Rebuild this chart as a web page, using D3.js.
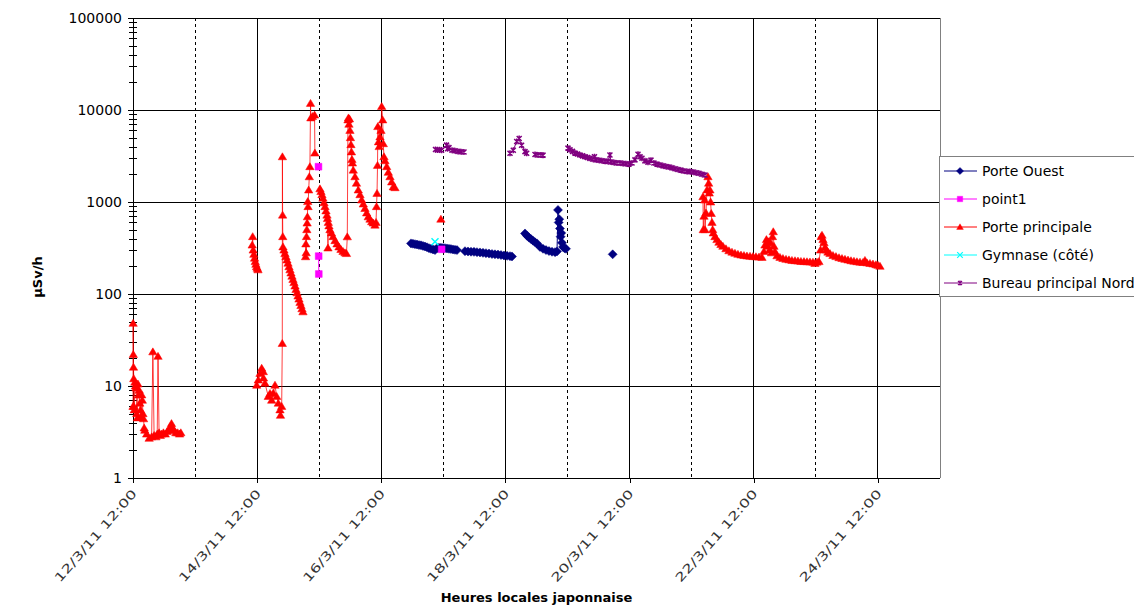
<!DOCTYPE html>
<html>
<head>
<meta charset="utf-8">
<script src="https://cdnjs.cloudflare.com/ajax/libs/d3/7.8.5/d3.min.js"></script>
<style>
  body { margin: 0; background: #fff; }
  svg { display: block; }
  text { font-family: "DejaVu Sans", Verdana, sans-serif; }
</style>
</head>
<body>
<div id="chart"></div>
<script>
// time = fractional day of March 2011, value in µSv/h, null = break in the line
const xTickLabels = ["12/3/11 12:00", "14/3/11 12:00", "16/3/11 12:00", "18/3/11 12:00", "20/3/11 12:00", "22/3/11 12:00", "24/3/11 12:00"];
const xMinorLabels = ["13/3/11 12:00", "15/3/11 12:00", "17/3/11 12:00", "19/3/11 12:00", "21/3/11 12:00", "23/3/11 12:00"];
const xDomain = ["12/3/11 12:00", "25/3/11 12:00"];
const yTicks = [1, 10, 100, 1000, 10000, 100000];

const porteOuest = [
  [16.978,355],[17.010,352],[17.043,348],[17.075,345],[17.107,340],[17.139,338],[17.172,333],[17.204,328],[17.236,322],[17.268,315],[17.300,310],[17.333,305],[17.365,300],
  [17.397,315],[17.429,318],[17.461,318],[17.494,316],[17.526,315],[17.558,313],[17.590,310],[17.622,308],[17.655,305],[17.687,302],[17.719,300], null,
  [17.848,292],[17.897,290],[17.945,288],[17.993,287],[18.041,285],[18.090,283],[18.138,280],[18.186,278],[18.235,275],[18.283,272],[18.331,270],[18.380,268],[18.428,265],[18.476,262],[18.525,260],[18.573,258],[18.605,256], null,
  [18.815,455],[18.847,430],[18.879,410],[18.911,395],[18.944,380],[18.976,365],[19.008,355], null,
  [19.056,325],[19.105,310],[19.153,300],[19.201,293],[19.250,288],[19.298,285],[19.330,290],[19.346,820],[19.357,600],[19.367,650],[19.378,515],[19.389,420],[19.399,460],[19.411,360],[19.427,325],[19.451,315],[19.475,310], null,
  [20.227,270]
];

const point1 = [
  [15.488,2420], null, [15.491,258],[15.493,165], null, [17.472,306]
];

const portePrincipale = [
  [12.500,6],[12.502,48],[12.505,22],[12.508,16],[12.512,12],[12.515,6],[12.520,5.5],[12.530,11],[12.540,10],[12.550,9.5],[12.560,5],[12.570,4.5],[12.580,10.5],[12.590,8],[12.600,9],[12.610,6.5],[12.620,5.5],[12.630,4.6],[12.640,8],[12.650,7],[12.660,5],[12.670,4.4],[12.680,3.5],[12.690,3.3],[12.720,3.0],[12.760,2.7],[12.800,2.8],[12.820,23.5],[12.840,2.9],[12.870,2.8],[12.890,3.0],[12.903,21],[12.920,3.1],[12.940,2.9],[12.960,3.0],[12.990,3.1],[13.020,3.0],[13.050,3.2],[13.080,3.3],[13.100,3.6],[13.120,3.9],[13.140,3.5],[13.160,3.3],[13.190,3.1],[13.220,3.1],[13.250,3.0],[13.270,3.1], null,
  [14.420,340],[14.428,420],[14.436,300],[14.447,270],[14.458,245],[14.469,225],[14.480,210],[14.491,198],[14.502,190],[14.513,183], null,
  [14.493,10.2],[14.518,11.6],[14.546,13.7],[14.573,15.6],[14.599,14.3],[14.602,12.2],[14.626,10.7],[14.679,7.7],[14.707,8.3],[14.734,7.0],[14.760,8.4],[14.787,10.2],[14.815,7.7],[14.841,6.5],[14.868,5.5],[14.876,4.8],[14.895,6.0],
  [14.905,29],[14.907,3100],[14.910,720],[14.913,420],[14.916,325],
  [14.932,300],[14.948,275],[14.964,254],[14.980,234],[14.997,216],[15.013,198],[15.029,183],[15.045,169],[15.061,156],[15.077,144],[15.093,133],[15.110,122],[15.126,112],[15.142,103],[15.158,95],[15.174,88],[15.190,81],[15.206,75],[15.222,69],[15.238,64], null,
  [15.280,254],[15.285,350],[15.290,280],[15.295,420],[15.300,500],[15.305,590],[15.310,690],[15.315,1010],[15.320,890],[15.330,1350],[15.340,1880],[15.350,2420],[15.360,11800],[15.365,8200],[15.390,8500],[15.425,8800],[15.430,3400], null,
  [15.512,1390],[15.528,1300],[15.544,1200],[15.560,1100],[15.577,980],[15.593,890],[15.609,800],[15.625,720],[15.633,660],[15.641,316],[15.646,600],[15.657,550],[15.673,500],[15.697,460],[15.722,420],[15.754,380],[15.786,350],[15.818,325],[15.850,305],[15.883,290],[15.915,280],[15.939,275],[15.952,418],
  [15.963,7800],[15.971,8200],[15.979,7000],[15.987,8000],[15.995,6000],[16.003,5000],[16.011,4200],[16.019,3500],[16.027,2900],[16.035,2650],[16.048,2220],[16.076,1880],[16.100,1600],[16.129,1350],[16.157,1200],[16.184,1050],[16.210,950],[16.237,850],[16.264,760],[16.290,690],[16.318,650],[16.345,610],[16.371,590],[16.398,560],
  [16.415,600],[16.423,890],[16.431,1240],[16.439,2500],[16.444,6600],[16.455,4500],[16.466,4000],[16.479,5100],[16.495,6000],[16.506,10900],[16.522,7800],[16.532,4300],[16.543,3100],[16.559,2800],[16.587,2420],[16.613,2100],[16.640,1880],[16.667,1650],[16.693,1460],[16.720,1430], null,
  [17.460,650], null,
  [21.682,1140],[21.686,500],[21.698,700],[21.709,1050],[21.714,500],[21.730,760],[21.746,1350],[21.762,1880],[21.773,1600],[21.783,1250],[21.794,1350],[21.805,1000],[21.815,750],[21.827,600],[21.838,500],[21.848,460],
  [21.875,420],[21.907,390],[21.939,365],[21.971,345],[22.003,330],[22.052,310],[22.100,295],[22.149,285],[22.197,277],[22.245,270],[22.294,265],[22.342,262],[22.390,259],[22.439,257],[22.487,255],[22.535,254],[22.584,252],[22.632,250],
  [22.664,290],[22.680,340],[22.704,390],[22.720,330],[22.737,370],[22.753,300],[22.769,360],[22.785,280],[22.801,420],[22.814,475],[22.825,330],[22.841,290],[22.874,260],[22.922,250],[22.970,243],[23.019,238],[23.067,235],[23.115,232],[23.164,230],[23.212,228],[23.260,226],[23.309,225],[23.357,224],[23.405,223],[23.453,222],[23.486,215],[23.518,222],[23.550,225],
  [23.575,300],[23.586,420],[23.599,435],[23.615,390],[23.631,360],[23.647,320],[23.674,300],[23.695,285],[23.728,275],[23.776,262],[23.824,255],[23.873,248],[23.921,243],[23.969,238],[24.018,234],[24.066,230],[24.114,227],[24.162,224],[24.211,222],[24.259,220],[24.291,232],[24.323,218],[24.372,215],[24.420,212],[24.468,208],[24.501,205],[24.533,200]
];

const gymnase = [
  [17.365,370]
];

const bureauNord = [
  [17.373,3720],[17.405,3680],[17.437,3700],[17.470,3650],[17.550,4150],[17.566,3800],[17.590,3900],[17.639,3650],[17.687,3600],[17.735,3550],[17.784,3520],[17.832,3500], null,
  [18.573,3380],[18.626,3660],[18.681,4550],[18.721,4900],[18.760,4130],[18.815,3530],[18.842,3380], null,
  [18.976,3280],[19.024,3250],[19.072,3250],[19.105,3230], null,
  [19.507,3850],[19.539,3700],[19.580,3550],[19.620,3400],[19.660,3320],[19.700,3240],[19.741,3170],[19.781,3100],[19.821,3040],[19.861,2980],[19.910,2920],[19.934,3100],[19.958,2870],[20.006,2840],[20.054,2810],[20.103,2780],[20.151,2750],[20.183,3240],[20.199,2720],[20.248,2690],[20.296,2660],[20.345,2650],[20.393,2620],[20.441,2600],[20.490,2580],[20.538,2650],[20.586,2870],[20.635,3300],[20.667,3100],[20.699,2990],[20.747,2800],[20.796,2700],[20.844,2850],[20.892,2650],[20.941,2580],[20.989,2520],[21.038,2470],[21.086,2430],[21.134,2400],[21.182,2350],[21.231,2300],[21.279,2260],[21.327,2220],[21.376,2170],[21.424,2150],[21.472,2140],[21.521,2120],[21.569,2080],[21.617,2050],[21.666,2000],[21.714,1970]
];

const seriesNames = ["Porte Ouest", "point1", "Porte principale", "Gymnase (côté)", "Bureau principal Nord"];
const seriesColors = ["#000080", "#ff00ff", "#ff0000", "#00ffff", "#800080"];
const seriesData = [porteOuest, point1, portePrincipale, gymnase, bureauNord];

// ---------------------------------------------------------------
const width = 1134, height = 606;
const margin = { left: 133, right: 194, top: 18, bottom: 128 };

const parseLabel = d3.utcParse("%d/%m/%y %H:%M");
const toDate = d => new Date(Date.UTC(2011, 2, 1) + (d - 1) * 864e5);

const x = d3.scaleUtc()
  .domain(xDomain.map(parseLabel))
  .range([margin.left, width - margin.right]);
const y = d3.scaleLog()
  .domain([1, 100000])
  .range([height - margin.bottom, margin.top]);

const svg = d3.select("#chart").append("svg")
  .attr("width", width).attr("height", height);

svg.append("rect").attr("width", width).attr("height", height).attr("fill", "#fff");

const x0 = x.range()[0], x1 = x.range()[1];
const y0 = y.range()[0], y1 = y.range()[1];

// grid
const grid = svg.append("g").attr("shape-rendering", "crispEdges");
grid.selectAll(".hgrid").data(yTicks.slice(1)).enter().append("line")
  .attr("x1", x0).attr("x2", x1)
  .attr("y1", d => y(d)).attr("y2", d => y(d))
  .attr("stroke", "#000").attr("stroke-width", 1);
grid.selectAll(".vgrid").data(xTickLabels.slice(1)).enter().append("line")
  .attr("x1", d => x(parseLabel(d))).attr("x2", d => x(parseLabel(d)))
  .attr("y1", y1).attr("y2", y0)
  .attr("stroke", "#000").attr("stroke-width", 1);
grid.selectAll(".vminor").data(xMinorLabels).enter().append("line")
  .attr("x1", d => x(parseLabel(d))).attr("x2", d => x(parseLabel(d)))
  .attr("y1", y1).attr("y2", y0)
  .attr("stroke", "#000").attr("stroke-width", 1)
  .attr("stroke-dasharray", "3,3");
grid.append("line")
  .attr("x1", x1).attr("x2", x1).attr("y1", y1).attr("y2", y0)
  .attr("stroke", "#808080");

// axes
const yAxis = svg.append("g")
  .attr("transform", `translate(${x0},0)`)
  .call(d3.axisLeft(y).tickValues(yTicks).tickSize(5).tickSizeOuter(0).tickFormat(d3.format("d")));
yAxis.selectAll("text").style("font-size", "14px").attr("x", -11);
yAxis.selectAll("line, path").attr("shape-rendering", "crispEdges");

const minors = [];
yTicks.slice(0, -1).forEach(t => { for (let k = 2; k < 10; k++) minors.push(t * k); });
svg.append("g").attr("shape-rendering", "crispEdges")
  .selectAll("line").data(minors).enter().append("line")
  .attr("x1", x0 - 4).attr("x2", x0 + 4)
  .attr("y1", d => Math.round(y(d)) + 0.5).attr("y2", d => Math.round(y(d)) + 0.5)
  .attr("stroke", "#000");

const xAxis = svg.append("g")
  .attr("transform", `translate(0,${y0})`)
  .call(d3.axisBottom(x).tickValues(xTickLabels.map(parseLabel)).tickSize(5).tickSizeOuter(0)
    .tickFormat(d3.utcFormat("%-d/%-m/%y %H:%M")));
xAxis.select(".domain").attr("d", `M${x0},0.5H${x1}`);
xAxis.selectAll("line, path").attr("shape-rendering", "crispEdges");
xAxis.selectAll("text")
  .style("font-size", "12px")
  .attr("fill", "#333")
  .attr("text-anchor", "end")
  .attr("textLength", 118)
  .attr("lengthAdjust", "spacingAndGlyphs")
  .attr("x", 0).attr("y", 0).attr("dy", 0)
  .attr("transform", "translate(4,16) rotate(-49)");

// titles
svg.append("text")
  .attr("x", (x0 + x1) / 2).attr("y", 602)
  .attr("text-anchor", "middle")
  .style("font-size", "13px").style("font-weight", "bold")
  .text("Heures locales japonnaise");
svg.append("text")
  .attr("transform", `translate(42,277) rotate(-90)`)
  .attr("text-anchor", "middle")
  .style("font-size", "13px").style("font-weight", "bold")
  .text("µSv/h");

// markers
const markers = [
  "M0,-4.5L4.5,0L0,4.5L-4.5,0Z",
  "M-3.4,-3.4H3.4V3.4H-3.4Z",
  "M0,-4L4.2,3L-4.2,3Z",
  "M-3.5,-3.5L3.5,3.5M-3.5,3.5L3.5,-3.5",
  "M-2.5,-2.5L2.5,2.5M-2.5,2.5L2.5,-2.5M0,-3V3"
];
const filled = [true, true, true, false, false];

const line = d3.line()
  .defined(d => d !== null)
  .x(d => x(toDate(d[0])))
  .y(d => y(d[1]));

seriesData.forEach((data, i) => {
  const g = svg.append("g");
  g.append("path")
    .datum(data)
    .attr("d", line)
    .attr("fill", "none")
    .attr("stroke", seriesColors[i])
    .attr("stroke-opacity", i === 2 ? 0.75 : 1)
    .attr("stroke-width", 1);
  g.selectAll("path.m").data(data.filter(d => d !== null)).enter().append("path")
    .attr("class", "m")
    .attr("transform", d => `translate(${x(toDate(d[0]))},${y(d[1])})`)
    .attr("d", markers[i])
    .attr("fill", filled[i] ? seriesColors[i] : "none")
    .attr("stroke", seriesColors[i])
    .attr("stroke-width", filled[i] ? 0.5 : 1.5);
});

// legend
const legend = svg.append("g").attr("transform", "translate(939,156)");
legend.append("rect")
  .attr("x", 0.5).attr("y", 0.5).attr("width", 220).attr("height", 140)
  .attr("fill", "#fff").attr("stroke", "#808080");
const item = legend.selectAll(".item").data(seriesNames).enter().append("g")
  .attr("transform", (d, i) => `translate(0,${15 + i * 28})`);
item.append("line")
  .attr("x1", 5).attr("x2", 38).attr("y1", 0).attr("y2", 0)
  .attr("stroke", (d, i) => seriesColors[i]).attr("stroke-width", 1);
item.append("path")
  .attr("transform", "translate(21,0) scale(0.8)")
  .attr("d", (d, i) => markers[i])
  .attr("fill", (d, i) => filled[i] ? seriesColors[i] : "none")
  .attr("stroke", (d, i) => seriesColors[i])
  .attr("stroke-width", (d, i) => filled[i] ? 0.5 : 1.5);
item.append("text")
  .attr("x", 43).attr("y", 0).attr("dy", "0.36em")
  .style("font-size", "14px")
  .text(d => d);
</script>
</body>
</html>
